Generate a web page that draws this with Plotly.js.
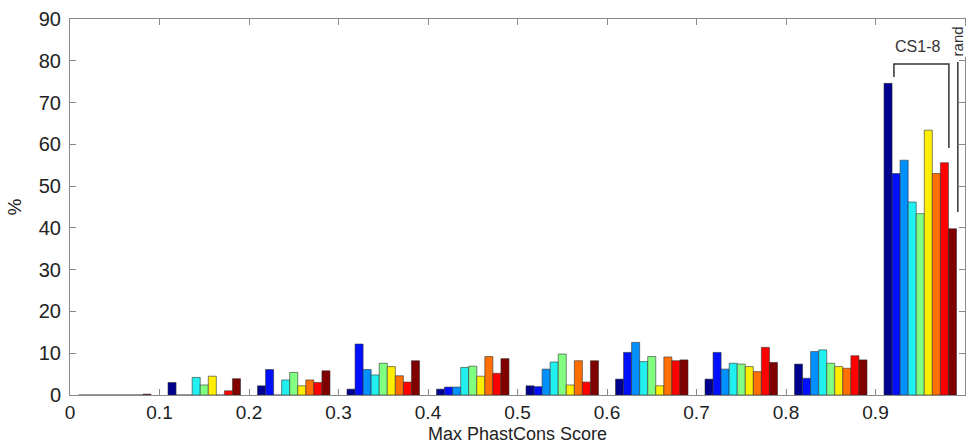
<!DOCTYPE html>
<html>
<head>
<meta charset="utf-8">
<script src="https://cdn.plot.ly/plotly-3.0.1.min.js"></script>
<style>html,body{margin:0;padding:0;background:#fff;}#chart{width:970px;height:446px;}</style>
</head>
<body>
<div id="chart"></div>
<script>
// Bin centres of Max PhastCons Score
var binCenters = [0.05, 0.15, 0.25, 0.35, 0.45, 0.55, 0.65, 0.75, 0.85, 0.95];
var seriesNames = ["CS1", "CS2", "CS3", "CS4", "CS5", "CS6", "CS7", "CS8", "rand"];
// Percent values per series (one value per bin)
var cs1  = [0, 3.0, 2.2, 1.4, 1.4, 2.2, 3.8, 3.8, 7.4, 74.6];
var cs2  = [0, 0, 6.1, 12.2, 1.9, 2.0, 10.2, 10.2, 4.0, 53.0];
var cs3  = [0, 0, 0, 6.1, 1.9, 6.2, 12.6, 6.2, 10.4, 56.2];
var cs4  = [0, 4.2, 3.6, 4.8, 6.6, 7.9, 8.0, 7.6, 10.8, 46.2];
var cs5  = [0, 2.4, 5.4, 7.6, 6.9, 9.8, 9.2, 7.4, 7.6, 43.4];
var cs6  = [0, 4.5, 2.2, 6.8, 4.5, 2.4, 2.2, 6.8, 6.8, 63.4];
var cs7  = [0, 0, 3.6, 4.6, 9.2, 8.2, 9.1, 5.6, 6.4, 53.0];
var cs8  = [0, 1.0, 3.0, 3.1, 5.2, 3.1, 8.2, 11.4, 9.4, 55.6];
var rand = [0.2, 3.9, 5.8, 8.2, 8.7, 8.2, 8.4, 7.8, 8.4, 39.8];
var seriesValues = [cs1, cs2, cs3, cs4, cs5, cs6, cs7, cs8, rand];
var seriesColors = ["#00008f", "#0010ff", "#0090ff", "#20f0f0", "#80ff80", "#ffee00", "#ff7000", "#ff0000", "#800000"];
var yTicks = [0, 10, 20, 30, 40, 50, 60, 70, 80, 90];
var xTicks = [0, 0.1, 0.2, 0.3, 0.4, 0.5, 0.6, 0.7, 0.8, 0.9, 1];
var xTickText = ["0", "0.1", "0.2", "0.3", "0.4", "0.5", "0.6", "0.7", "0.8", "0.9", "1"];

var traces = seriesValues.map(function (vals, i) {
  return {
    type: "bar",
    name: seriesNames[i],
    x: binCenters,
    y: vals,
    marker: { color: seriesColors[i], line: { color: "#333333", width: 0.6 } },
    hoverinfo: "x+y+name"
  };
});

var font = "Liberation Sans, Arial, sans-serif";
var lineC = "#333333";
var layout = {
  width: 970, height: 446,
  margin: { l: 70, r: 5, t: 19, b: 51 },
  paper_bgcolor: "#ffffff", plot_bgcolor: "#ffffff",
  showlegend: false,
  barmode: "group", bargap: 0.19, bargroupgap: 0,
  font: { family: font, color: "#222222", size: 20 },
  xaxis: {
    range: [0, 1], tickvals: xTicks, ticktext: xTickText,
    ticks: "inside", ticklen: 6, tickcolor: "#888888", tickwidth: 1,
    showline: true, linecolor: "#888888", linewidth: 1, mirror: "ticks",
    showgrid: false, zeroline: false,
    tickfont: { size: 19, family: font, color: "#222222" },
    title: { text: "Max PhastCons Score", font: { size: 18, family: font, color: "#222222" }, standoff: 5 }
  },
  yaxis: {
    range: [0, 90], tickvals: yTicks,
    ticks: "inside", ticklen: 6, tickcolor: "#888888", tickwidth: 1,
    showline: true, linecolor: "#888888", linewidth: 1, mirror: "ticks",
    showgrid: false, zeroline: false, ticklabelstandoff: 4,
    tickfont: { size: 20, family: font, color: "#222222" },
    title: { text: "%", font: { size: 19, family: font, color: "#222222" }, standoff: 12 }
  },
  shapes: [
    { type: "path", xref: "x", yref: "y", path: "M 0.9206 76.1 L 0.9206 79.2 L 0.982 79.2 L 0.982 59.1", line: { color: lineC, width: 1.5 } },
    { type: "line", xref: "x", yref: "y", x0: 0.992, x1: 0.992, y0: 79.7, y1: 43.8, line: { color: lineC, width: 1.5 } }
  ],
  annotations: [
    { xref: "x", yref: "y", x: 0.947, y: 83.3, text: "CS1-8", showarrow: false, font: { size: 16, family: font, color: "#333333" } },
    { xref: "x", yref: "y", x: 0.992, y: 84.6, text: "rand", textangle: -90, showarrow: false, bgcolor: "#ffffff", borderpad: 0, font: { size: 15, family: font, color: "#333333" } }
  ]
};

Plotly.newPlot("chart", traces, layout, { displayModeBar: false, staticPlot: true });
</script>
</body>
</html>
